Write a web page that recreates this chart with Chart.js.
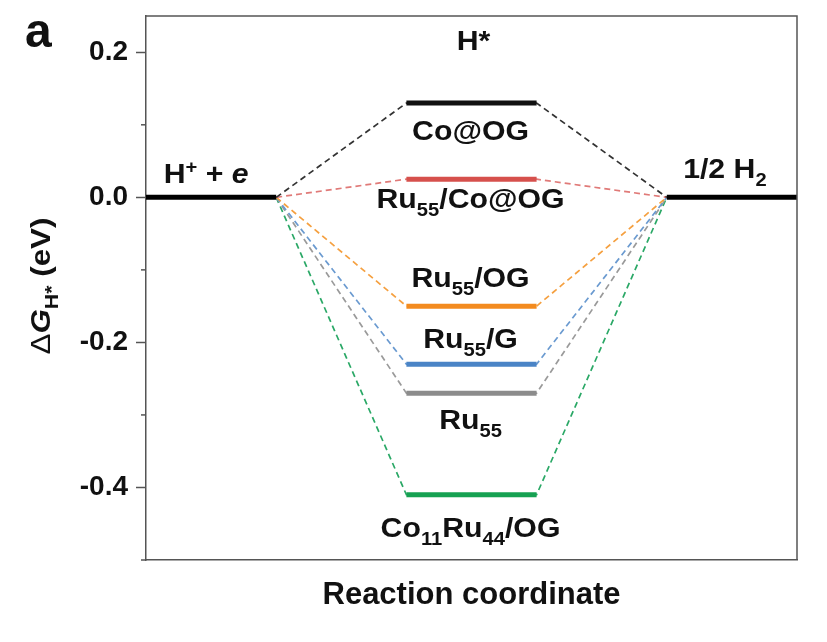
<!DOCTYPE html>
<html><head><meta charset="utf-8">
<script src="https://cdn.jsdelivr.net/npm/chart.js@4.4.0/dist/chart.umd.min.js"></script>
<style>html,body{margin:0;padding:0;background:#fff;}</style>
</head><body>
<canvas id="c" width="827" height="642"></canvas>
<script>
// ---------- data ----------
const stageLabels = ['H+ + e', 'H*', '1/2 H2'];
const catalysts = ['Co@OG', 'Ru55/Co@OG', 'Ru55/OG', 'Ru55/G', 'Ru55', 'Co11Ru44/OG'];
const deltaG = [0.13, 0.025, -0.15, -0.23, -0.27, -0.41];
const initialG = 0.0;   // H+ + e
const finalG = 0.0;     // 1/2 H2
const majorTicks = [0.2, 0.0, -0.2, -0.4];
const minorTicks = [0.1, -0.1, -0.3, -0.5];

// ---------- styles ----------
const levelColors = ['#111111', '#d6504c', '#f38b1f', '#4a84c6', '#8c8c8c', '#16a152'];
const dashColors  = ['#333333', '#e07a78', '#f5a040', '#6a9ad0', '#9a9a9a', '#2aa866'];
const labelOffsets = [37, 29, -19, -16, 36, 42];   // px from level line to label baseline
const FONT = '"Liberation Sans", Arial, Helvetica, sans-serif';
const SX = 1.12;

function parseName(name) {
  const parts = [];
  name.split(/(\d+)/).forEach(s => {
    if (!s) return;
    if (/^\d+$/.test(s)) parts.push({t: s, sub: true});
    else parts.push({t: s});
  });
  return parts;
}

function partFont(p, base) {
  const size = (p.sub || p.sup) ? Math.round(base * 0.67) : base;
  return `${p.italic ? 'italic ' : ''}${p.weight || 'bold'} ${size}px ${FONT}`;
}

function drawRich(ctx, parts, x, y, align, base, sx) {
  ctx.save();
  ctx.translate(x, y);
  ctx.scale(sx, 1);
  ctx.textBaseline = 'alphabetic';
  ctx.textAlign = 'left';
  let total = 0;
  parts.forEach(p => { ctx.font = partFont(p, base); total += ctx.measureText(p.t).width; });
  let cx = align === 'center' ? -total / 2 : (align === 'right' ? -total : 0);
  parts.forEach(p => {
    ctx.font = partFont(p, base);
    const dy = p.sub ? base * 0.29 : (p.sup ? -base * 0.4 : 0);
    ctx.fillText(p.t, cx, dy);
    cx += ctx.measureText(p.t).width;
  });
  ctx.restore();
}

// ---------- datasets ----------
const datasets = [];
catalysts.forEach((name, i) => {
  datasets.push({
    label: name + ' path',
    data: [{x: 1, y: initialG}, {x: 2, y: deltaG[i]}, {x: 3, y: deltaG[i]}, {x: 4, y: finalG}],
    borderColor: dashColors[i], borderWidth: 1.7, borderDash: [6, 4],
    pointRadius: 0, showLine: true, fill: false, order: 10
  });
  datasets.push({
    label: name,
    data: [{x: 2, y: deltaG[i]}, {x: 3, y: deltaG[i]}],
    borderColor: levelColors[i], borderWidth: 5,
    pointRadius: 0, showLine: true, fill: false, order: 1
  });
});
datasets.push({label: stageLabels[0], data: [{x: 0, y: initialG}, {x: 1, y: initialG}],
  borderColor: '#000', borderWidth: 5, pointRadius: 0, showLine: true, order: 1});
datasets.push({label: stageLabels[2], data: [{x: 4, y: finalG}, {x: 5, y: finalG}],
  borderColor: '#000', borderWidth: 5, pointRadius: 0, showLine: true, order: 1});

// ---------- annotations plugin ----------
const annot = {
  id: 'annot',
  afterDraw(chart) {
    const {ctx, chartArea: a, scales: {x, y}} = chart;
    ctx.save();
    // frame top/right
    ctx.strokeStyle = '#555'; ctx.lineWidth = 1.5;
    ctx.beginPath();
    ctx.moveTo(a.left, a.top); ctx.lineTo(a.right, a.top); ctx.lineTo(a.right, a.bottom);
    ctx.stroke();
    // minor ticks
    minorTicks.forEach(v => {
      const py = y.getPixelForValue(v);
      ctx.beginPath(); ctx.moveTo(a.left - 5, py); ctx.lineTo(a.left, py); ctx.stroke();
    });
    ctx.fillStyle = '#111';
    // catalyst labels
    const midX = x.getPixelForValue(2.5);
    catalysts.forEach((name, i) => {
      drawRich(ctx, parseName(name), midX - 1, y.getPixelForValue(deltaG[i]) + labelOffsets[i], 'center', 27, SX);
    });
    // stage labels
    drawRich(ctx, [{t: 'H'}, {t: '+', sup: true}, {t: ' + '}, {t: 'e', italic: true}],
      x.getPixelForValue(0.5) - 5, y.getPixelForValue(initialG) - 14, 'center', 27, SX);
    drawRich(ctx, [{t: 'H*'}], midX + 2, a.top + 34, 'center', 27, SX);
    drawRich(ctx, [{t: '1/2 H'}, {t: '2', sub: true}],
      x.getPixelForValue(4.5) - 7, y.getPixelForValue(finalG) - 19, 'center', 27, SX);
    // y title
    ctx.save();
    ctx.translate(50, (a.top + a.bottom) / 2 - 2);
    ctx.rotate(-Math.PI / 2);
    drawRich(ctx, [{t: '\u0394', weight: 'normal'}, {t: 'G', italic: true}, {t: 'H*', sub: true}, {t: ' (eV)'}],
      0, 0, 'center', 28, SX);
    ctx.restore();
    // panel letter
    ctx.font = `bold 48px ${FONT}`;
    ctx.textAlign = 'left'; ctx.textBaseline = 'alphabetic';
    ctx.fillText('a', 25, 47);
    ctx.restore();
  }
};

new Chart(document.getElementById('c'), {
  type: 'scatter',
  data: {datasets},
  plugins: [annot],
  options: {
    responsive: false, animation: false,
    layout: {padding: {left: 0, top: 16, right: 30, bottom: 0}},
    plugins: {legend: {display: false}, tooltip: {enabled: false}},
    scales: {
      x: {
        type: 'linear', min: 0, max: 5,
        ticks: {display: false},
        grid: {display: false, drawTicks: false},
        border: {display: true, color: '#555', width: 1.5},
        title: {display: true, text: 'Reaction coordinate', color: '#111',
          font: {family: FONT, size: 31, weight: 'bold'}, padding: {top: 0, bottom: 28}},
        afterFit(s) { s.height = 82; s.paddingLeft = 0; s.paddingRight = 0; }
      },
      y: {
        type: 'linear', min: -0.5, max: 0.25,
        afterBuildTicks(s) { s.ticks = majorTicks.map(v => ({value: v})); },
        ticks: {callback: v => Number(v).toFixed(1), color: '#111', padding: 8,
          font: {family: FONT, size: 28, weight: 'bold'}},
        grid: {drawOnChartArea: false, drawTicks: true, tickLength: 10, tickWidth: 1.5, tickColor: '#555'},
        border: {color: '#555', width: 1.5},
        afterFit(s) { s.width = 146; s.paddingTop = 0; s.paddingBottom = 0; }
      }
    }
  }
});
</script>
</body></html>
